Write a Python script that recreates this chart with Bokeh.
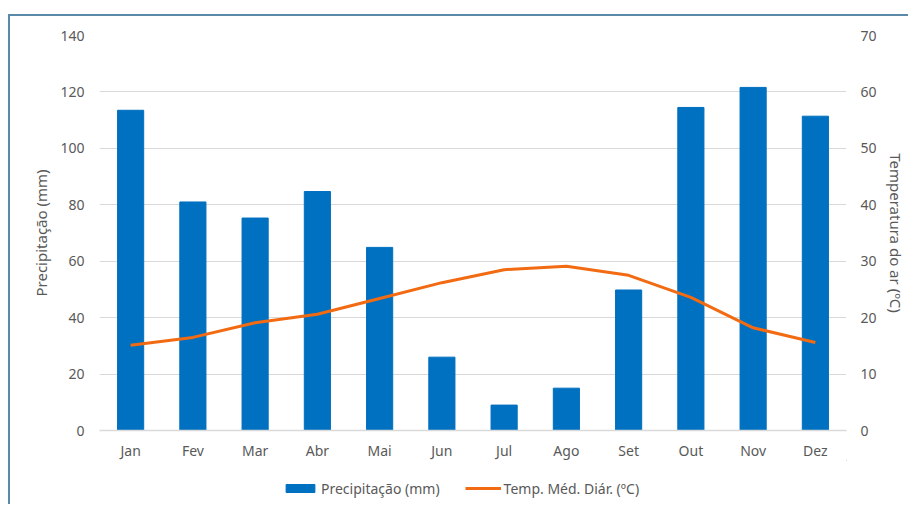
from bokeh.plotting import figure
from bokeh.layouts import column
from bokeh.models import (FactorRange, Range1d, LinearAxis, ColumnDataSource,
                          Legend, LegendItem)
from bokeh.embed import file_html
from bokeh.resources import INLINE

months = ["Jan", "Fev", "Mar", "Abr", "Mai", "Jun", "Jul", "Ago", "Set", "Out", "Nov", "Dez"]
precip = [113.5, 81.0, 75.3, 84.7, 64.9, 26.0, 9.0, 15.0, 49.8, 114.5, 121.6, 111.4]
temp = [15.1, 16.5, 19.1, 20.6, 23.4, 26.2, 28.5, 29.1, 27.5, 23.6, 18.2, 15.6]
y_left_ticks = [0, 20, 40, 60, 80, 100, 120, 140]
y_right_ticks = [0, 10, 20, 30, 40, 50, 60, 70]
series_names = ["Precipitação (mm)", "Temp. Méd. Diár. (ºC)"]

FONT = "Noto Sans"
GRAY = "#595959"
BLUE = "#0070c0"
ORANGE = "#f26b12"
FRAME = "#5b8aa8"

src = ColumnDataSource(dict(m=months, p=precip, t=temp))

p = figure(x_range=FactorRange(*months, range_padding=0),
           y_range=Range1d(0, 140),
           width=900, height=446, output_backend="svg", toolbar_location=None,
           min_border_left=89, min_border_right=64, min_border_top=19, min_border_bottom=32,
           styles={"margin-top": "14px", "margin-left": "8px",
                   "border-top": f"2px solid {FRAME}", "border-left": f"2px solid {FRAME}"})
p.outline_line_color = None
p.extra_y_ranges = {"temp": Range1d(0, 70)}

bars = p.vbar(x="m", top="p", width=0.42, source=src, color=BLUE)
line = p.line(x="m", y="t", source=src, y_range_name="temp", line_color=ORANGE, line_width=3)

p.yaxis.ticker = y_left_ticks
p.yaxis.axis_label = "Precipitação (mm)"

right = LinearAxis(y_range_name="temp", ticker=y_right_ticks, axis_label="Temperatura do ar (ºC)")
p.add_layout(right, "right")

for ax in [p.yaxis[0], right]:
    ax.axis_line_color = None
    ax.major_tick_line_color = None
    ax.minor_tick_line_color = None
    ax.major_label_text_font = FONT
    ax.major_label_text_font_size = "14px"
    ax.major_label_text_color = GRAY
    ax.axis_label_text_font = FONT
    ax.axis_label_text_font_size = "15px"
    ax.axis_label_text_font_style = "normal"
    ax.axis_label_text_color = GRAY
p.yaxis[0].major_label_standoff = 9
p.yaxis[0].axis_label_standoff = 6
right.major_label_standoff = 8
right.axis_label_standoff = 6

xa = p.xaxis[0]
xa.axis_line_color = "#d9d9d9"
xa.axis_line_width = 1.5
xa.major_tick_line_color = None
xa.minor_tick_line_color = None
xa.major_label_text_font = FONT
xa.major_label_text_font_size = "14px"
xa.major_label_text_color = GRAY
xa.major_label_standoff = 4

p.xgrid.grid_line_color = None
p.ygrid.grid_line_color = "#d9d9d9"
p.ygrid.grid_line_width = 1

# legend strip below the chart
p2 = figure(width=900, height=44, output_backend="svg", toolbar_location=None,
            x_range=Range1d(0, 1), y_range=Range1d(0, 1),
            x_axis_type=None, y_axis_type=None, min_border=0,
            styles={"margin-left": "8px", "border-left": f"2px solid {FRAME}"})
p2.outline_line_color = None
p2.xgrid.visible = False
p2.ygrid.visible = False
lb = p2.vbar(x=[5], top=[5], bottom=[4], width=0.1, color=BLUE)
ll = p2.line(x=[5, 6], y=[5, 5], line_color=ORANGE, line_width=3)

legend = Legend(items=[LegendItem(label=series_names[0], renderers=[lb]),
                       LegendItem(label=series_names[1], renderers=[ll])],
                orientation="horizontal", location=(183, 6),
                glyph_width=36, glyph_height=10, label_standoff=3, spacing=25,
                label_height=20,
                label_text_font=FONT, label_text_font_size="14px", label_text_color=GRAY,
                border_line_color=None, background_fill_alpha=0, padding=2, margin=0)
p2.add_layout(legend, "center")

layout = column(p, p2, spacing=0)
open("out.html", "w").write(file_html(layout, INLINE))
